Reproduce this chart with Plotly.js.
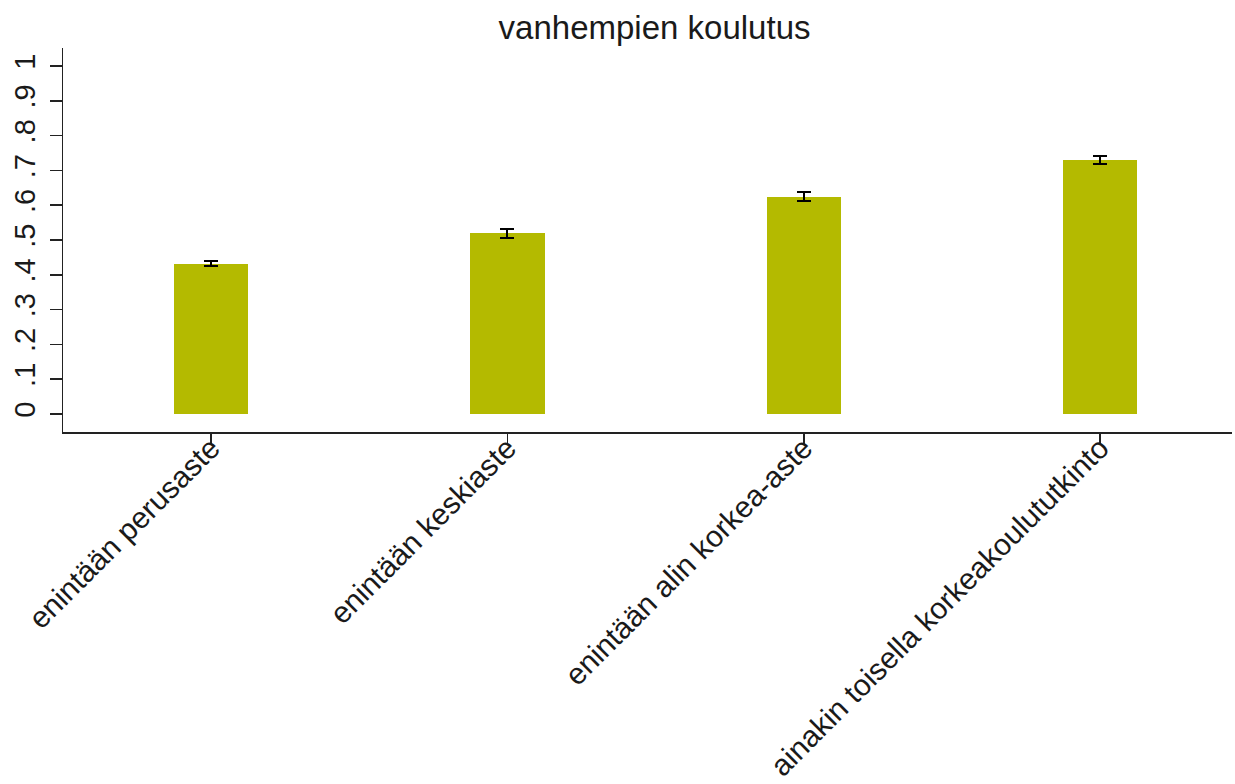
<!DOCTYPE html>
<html>
<head>
<meta charset="utf-8">
<script src="https://cdn.plot.ly/plotly-3.0.1.min.js"></script>
<style>html,body{margin:0;padding:0;background:#fff;}#chart{width:1235px;height:784px;}</style>
</head>
<body>
<div id="chart"></div>
<script>
const categories = ["enintään perusaste", "enintään keskiaste", "enintään alin korkea-aste", "ainakin toisella korkeakoulututkinto"];
const means = [0.432, 0.519, 0.625, 0.730];
const ciHalf = [0.008, 0.013, 0.014, 0.011];
const yTickVals = [0, 0.1, 0.2, 0.3, 0.4, 0.5, 0.6, 0.7, 0.8, 0.9, 1];
const yTickText = ["0", ".1", ".2", ".3", ".4", ".5", ".6", ".7", ".8", ".9", "1"];

const trace = {
  type: "bar",
  x: categories.map((c, i) => i),
  y: means,
  width: 0.25,
  marker: { color: "#b4ba00", line: { width: 0 } },
  error_y: { type: "data", array: ciHalf, visible: true, color: "#000", thickness: 2, width: 7 },
  hoverinfo: "y"
};

const layout = {
  width: 1235, height: 784,
  margin: { l: 63, r: 3, t: 48, b: 352 },
  paper_bgcolor: "#fff", plot_bgcolor: "#fff",
  font: { family: "Liberation Sans, Arial, sans-serif", color: "#1a1a1a" },
  title: { text: "vanhempien koulutus", x: 0.53, xanchor: "center", y: 0.965, yanchor: "middle", font: { size: 33, color: "#1a1a1a" } },
  showlegend: false,
  bargap: 0,
  xaxis: {
    range: [-0.5, 3.445],
    tickmode: "array",
    tickvals: categories.map((c, i) => i),
    ticktext: categories,
    tickangle: -45,
    ticks: "outside", ticklen: 11, tickwidth: 1.5, tickcolor: "#222",
    ticklabelstandoff: -26,
    showline: true, linecolor: "#222", linewidth: 1.5,
    showgrid: false, zeroline: false,
    tickfont: { size: 30, color: "#1a1a1a" }
  },
  yaxis: {
    range: [-0.052, 1.052],
    tickmode: "array",
    tickvals: yTickVals,
    ticktext: yTickText,
    tickangle: -90,
    ticks: "outside", ticklen: 12, tickwidth: 1.5, tickcolor: "#222",
    ticklabelstandoff: 3,
    showline: true, linecolor: "#222", linewidth: 1.5,
    showgrid: false, zeroline: false,
    tickfont: { size: 29, color: "#1a1a1a" }
  }
};

Plotly.newPlot("chart", [trace], layout, { displayModeBar: false, staticPlot: true });
</script>
</body>
</html>
